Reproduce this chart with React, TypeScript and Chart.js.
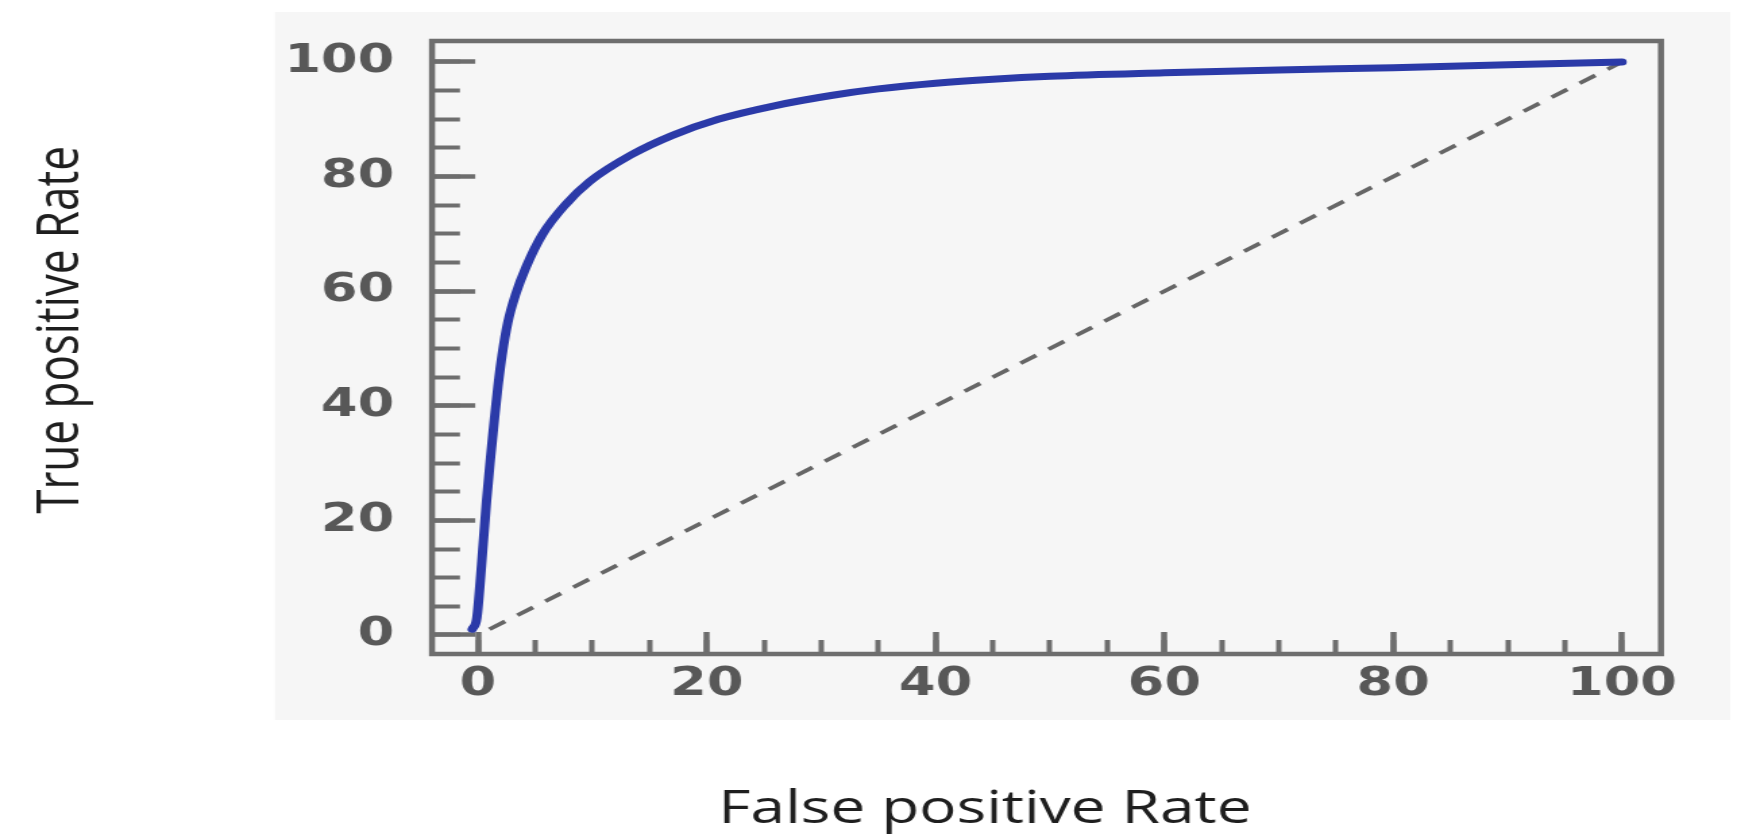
import { useEffect, useRef } from 'react';
import { Chart, registerables } from 'chart.js';

Chart.register(...registerables);

// ---- data ----
const rocFpr = [-0.5, -0.1, 0.3, 0.75, 1.1, 1.45, 1.75, 2.1, 2.6, 3.3, 4.2, 5.6, 7.6, 9.8, 13.4, 17, 21, 26, 31, 35, 40, 45, 50, 60, 70, 80, 90, 100];
const rocTpr = [1, 3, 12, 23.5, 31, 38, 43.5, 48.8, 54.5, 59.5, 64.2, 69.8, 75, 79.2, 83.8, 87.2, 90, 92.4, 94.2, 95.3, 96.3, 97.0, 97.5, 98.1, 98.6, 99.0, 99.5, 100];
const chanceFpr = [1, 100];
const chanceTpr = [1, 100];
const majorTicks = [0, 20, 40, 60, 80, 100];
const minorTicks = [0, 5, 10, 15, 20, 25, 30, 35, 40, 45, 50, 55, 60, 65, 70, 75, 80, 85, 90, 95, 100];
const tickLabels = ['0', '20', '40', '60', '80', '100'];
const xTitle = 'False positive Rate';
const yTitle = 'True positive Rate';

// ---- geometry (display px are divided by the horizontal stretch) ----
const DISPLAY_W = 1764;
const H = 840;
const W = 1307;
const S = DISPLAY_W / W;
const px = (d: number) => d / S;

const X_MIN = -4.02;
const X_MAX = 103.41;
const Y_MIN = -3.316;
const Y_MAX = 103.66;

const tickFont = { family: '"DejaVu Sans", sans-serif', size: 39, weight: 'bold' as const };
const tickColor = '#6e6e6e';

const zeroPad = (s: any) => {
  s.paddingLeft = 0;
  s.paddingRight = 0;
  s.paddingTop = 0;
  s.paddingBottom = 0;
};

const labelFor = (v: any) => {
  const i = majorTicks.indexOf(Number(v));
  return i >= 0 ? tickLabels[i] : '';
};

const decorPlugin = {
  id: 'decor',
  beforeDraw(chart: any) {
    const { ctx } = chart;
    ctx.save();
    ctx.fillStyle = '#ffffff';
    ctx.fillRect(0, 0, chart.width, chart.height);
    ctx.fillStyle = '#f6f6f6';
    ctx.fillRect(px(275), 12, px(1730 - 275), 720 - 12);
    ctx.restore();
  },
  afterDatasetsDraw(chart: any) {
    const { ctx, chartArea: a } = chart;
    ctx.save();
    ctx.strokeStyle = '#6e6e6e';
    ctx.lineWidth = 4.5;
    ctx.strokeRect(a.left, a.top, a.right - a.left, a.bottom - a.top);
    ctx.restore();
  },
  afterDraw(chart: any) {
    const { ctx } = chart;
    ctx.save();
    ctx.fillStyle = '#1e1e1e';
    ctx.textAlign = 'center';
    ctx.textBaseline = 'middle';
    ctx.font = '44px "Open Sans"';
    ctx.save();
    ctx.translate(px(62), 330);
    ctx.rotate(-Math.PI / 2);
    ctx.fillText(yTitle, 0, 0);
    ctx.restore();
    ctx.font = '46px "Open Sans"';
    ctx.fillText(xTitle, px(985), 810);
    ctx.restore();
  },
};

export default function App() {
  const ref = useRef<HTMLCanvasElement>(null);

  useEffect(() => {
    if (!ref.current) return;
    const chart = new Chart(ref.current, {
      type: 'scatter',
      data: {
        datasets: [
          {
            data: rocFpr.map((x, i) => ({ x, y: rocTpr[i] })),
            showLine: true,
            borderColor: '#2b3aa8',
            borderWidth: 7,
            pointRadius: 0,
            cubicInterpolationMode: 'monotone',
            borderCapStyle: 'round',
            borderJoinStyle: 'round',
            xAxisID: 'x',
            yAxisID: 'y',
            order: 0,
          },
          {
            data: chanceFpr.map((x, i) => ({ x, y: chanceTpr[i] })),
            showLine: true,
            borderColor: '#666666',
            borderWidth: 3.8,
            borderDash: [14, 11],
            pointRadius: 0,
            xAxisID: 'x',
            yAxisID: 'y',
            order: 1,
          },
        ],
      } as any,
      options: {
        animation: false,
        responsive: false,
        devicePixelRatio: 1,
        events: [],
        layout: { padding: { left: 0, top: 41, right: W - px(1661), bottom: 0 } },
        plugins: { legend: { display: false }, tooltip: { enabled: false } },
        scales: {
          x: {
            type: 'linear',
            axis: 'x',
            position: 'bottom',
            weight: 1,
            min: X_MIN,
            max: X_MAX,
            afterBuildTicks: (s: any) => {
              s.ticks = majorTicks.map((v) => ({ value: v }));
            },
            afterFit: (s: any) => {
              s.height = H - 654;
              zeroPad(s);
            },
            ticks: { font: tickFont, color: '#585858', padding: 29.6, autoSkip: false, maxRotation: 0, callback: labelFor },
            grid: { drawOnChartArea: false, drawTicks: true, tickLength: -22, tickWidth: 4.5, tickColor },
            border: { display: false },
          },
          xMinor: {
            type: 'linear',
            axis: 'x',
            position: 'bottom',
            weight: 0,
            min: X_MIN,
            max: X_MAX,
            afterBuildTicks: (s: any) => {
              s.ticks = minorTicks.map((v) => ({ value: v }));
            },
            afterFit: (s: any) => {
              s.height = 0;
              zeroPad(s);
            },
            ticks: { display: false },
            grid: { drawOnChartArea: false, drawTicks: true, tickLength: -14, tickWidth: 4, tickColor },
            border: { display: false },
          },
          y: {
            type: 'linear',
            axis: 'y',
            position: 'left',
            weight: 1,
            min: Y_MIN,
            max: Y_MAX,
            afterBuildTicks: (s: any) => {
              s.ticks = majorTicks.map((v) => ({ value: v }));
            },
            afterFit: (s: any) => {
              s.width = px(432);
              zeroPad(s);
            },
            ticks: { font: tickFont, color: '#585858', padding: 60, autoSkip: false, callback: labelFor },
            grid: { drawOnChartArea: false, drawTicks: true, tickLength: -32, tickWidth: 4.5, tickColor },
            border: { display: false },
          },
          yMinor: {
            type: 'linear',
            axis: 'y',
            position: 'left',
            weight: 0,
            min: Y_MIN,
            max: Y_MAX,
            afterBuildTicks: (s: any) => {
              s.ticks = minorTicks.map((v) => ({ value: v }));
            },
            afterFit: (s: any) => {
              s.width = 0;
              zeroPad(s);
            },
            ticks: { display: false },
            grid: { drawOnChartArea: false, drawTicks: true, tickLength: -20.7, tickWidth: 4, tickColor },
            border: { display: false },
          },
        },
      } as any,
      plugins: [decorPlugin],
    });
    return () => chart.destroy();
  }, []);

  return (
    <div style={{ position: 'absolute', left: 0, top: 0, width: DISPLAY_W, height: H, background: '#fff', overflow: 'hidden' }}>
      <canvas ref={ref} width={W} height={H} style={{ width: `${DISPLAY_W}px`, height: `${H}px`, display: 'block' }} />
    </div>
  );
}
